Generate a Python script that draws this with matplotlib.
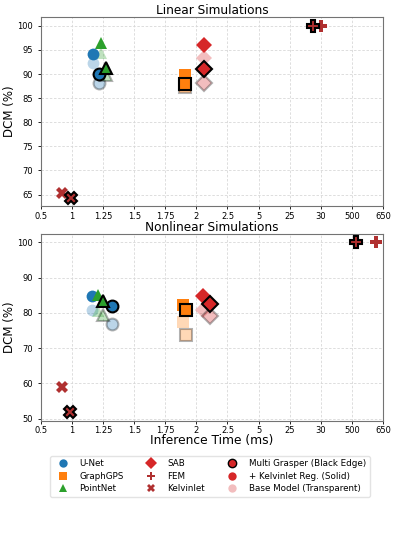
import numpy as np
import matplotlib.pyplot as plt
from matplotlib.lines import Line2D

# x axis is categorical: equally spaced ticks for these inference times (ms)
tick_vals = [0.5, 1, 1.25, 1.5, 1.75, 2, 2.5, 5, 25, 30, 500, 650]
tick_labels = ['0.5', '1', '1.25', '1.5', '1.75', '2', '2.5', '5', '25', '30', '500', '650']

models = ['U-Net', 'GraphGPS', 'PointNet', 'SAB']
colors = ['#1f77b4', '#ff7f0e', '#2ca02c', '#d62728']
markers = ['o', 's', '^', 'D']

# linear simulations
lin_time_single = [1.17, 1.91, 1.23, 2.12]
lin_time_multi = [1.22, 1.91, 1.27, 2.12]
lin_base_single = [92.2, 87.6, 94.4, 93.4]
lin_base_multi = [88.2, 87.3, 89.7, 88.2]
lin_reg_single = [94.1, 89.7, 96.4, 96.1]
lin_reg_multi = [90.0, 88.0, 91.2, 91.0]
lin_fem_time = [30, 28.75]
lin_fem_dcm = [100, 100]
lin_kel_time = [0.83, 0.98]
lin_kel_dcm = [65.3, 64.4]

# nonlinear simulations
nl_time_single = [1.16, 1.89, 1.21, 2.10]
nl_time_multi = [1.32, 1.92, 1.25, 2.22]
nl_base_single = [80.7, 77.5, 80.5, 80.8]
nl_base_multi = [76.9, 73.8, 79.4, 79.0]
nl_reg_single = [84.9, 82.3, 85.1, 84.9]
nl_reg_multi = [82.1, 80.8, 83.5, 82.5]
nl_fem_time = [617, 521]
nl_fem_dcm = [100, 100]
nl_kel_time = [0.84, 0.96]
nl_kel_dcm = [58.9, 51.8]

baseline_color = '#b03030'


def to_pos(t):
    return np.interp(t, tick_vals, np.arange(len(tick_vals)))


def draw(ax, ts, tm, bs, bm, rs, rm, fem_t, fem_d, kel_t, kel_d, title):
    ms = 8.5
    for i in range(len(models)):
        c, m = colors[i], markers[i]
        msz = ms - 0.5 if m == 's' else ms
        # base model (transparent)
        ax.plot(to_pos(ts[i]), bs[i], m, color=c, alpha=0.3, ms=msz, mew=0, zorder=2)
        ax.plot(to_pos(tm[i]), bm[i], m, color=c, alpha=0.3, ms=msz, mec='black', mew=1.5, zorder=2)
        # + kelvinlet reg (solid)
        ax.plot(to_pos(ts[i]), rs[i], m, color=c, ms=msz, mew=0, zorder=3)
        ax.plot(to_pos(tm[i]), rm[i], m, color=c, ms=msz, mec='black', mew=1.5, zorder=4)
    # FEM and Kelvinlet baselines
    ax.plot(to_pos(fem_t[0]), fem_d[0], 'P', color=baseline_color, ms=ms, mew=0, zorder=3)
    ax.plot(to_pos(fem_t[1]), fem_d[1], 'P', color=baseline_color, ms=ms, mec='black', mew=1.5, zorder=4)
    ax.plot(to_pos(kel_t[0]), kel_d[0], 'X', color=baseline_color, ms=ms, mew=0, zorder=3)
    ax.plot(to_pos(kel_t[1]), kel_d[1], 'X', color=baseline_color, ms=ms, mec='black', mew=1.5, zorder=4)

    ax.set_xlim(0, len(tick_vals) - 1)
    ax.set_xticks(np.arange(len(tick_vals)))
    ax.set_xticklabels(tick_labels)
    ax.tick_params(labelsize=6, length=2.5, width=0.6)
    ax.tick_params(axis='x', pad=1.5)
    ax.grid(True, linestyle=(0, (3, 2)), color='#d8d8d8', linewidth=0.6)
    ax.set_axisbelow(True)
    ax.set_title(title, fontsize=8.7, pad=2)
    ax.set_ylabel('DCM (%)', fontsize=8.5, labelpad=0.5)
    for s in ax.spines.values():
        s.set_color('0.45')


fig = plt.figure(figsize=(3.97, 5.54), dpi=100)
ax1 = fig.add_axes([0.1033, 0.628, 0.861, 0.341])
ax2 = fig.add_axes([0.1033, 0.2406, 0.861, 0.337])

draw(ax1, lin_time_single, lin_time_multi, lin_base_single, lin_base_multi,
     lin_reg_single, lin_reg_multi, lin_fem_time, lin_fem_dcm, lin_kel_time, lin_kel_dcm,
     'Linear Simulations')
ax1.set_yticks(np.arange(65, 101, 5))

draw(ax2, nl_time_single, nl_time_multi, nl_base_single, nl_base_multi,
     nl_reg_single, nl_reg_multi, nl_fem_time, nl_fem_dcm, nl_kel_time, nl_kel_dcm,
     'Nonlinear Simulations')
ax2.set_yticks(np.arange(50, 101, 10))
ax2.set_xlabel('Inference Time (ms)', fontsize=8.8, labelpad=-1)

# legend
handles = []
labels = []
for name, c, m in zip(models[:3], colors[:3], markers[:3]):
    handles.append(Line2D([], [], marker=m, color=c, ls='', ms=6, mew=0))
    labels.append(name)
handles.append(Line2D([], [], marker='D', color=colors[3], ls='', ms=6, mew=0))
labels.append('SAB')
handles.append(Line2D([], [], marker='P', color=baseline_color, ls='', ms=6, mew=0))
labels.append('FEM')
handles.append(Line2D([], [], marker='X', color=baseline_color, ls='', ms=6, mew=0))
labels.append('Kelvinlet')
handles.append(Line2D([], [], marker='o', color=colors[3], ls='', ms=6, mec='black', mew=1))
labels.append('Multi Grasper (Black Edge)')
handles.append(Line2D([], [], marker='o', color=colors[3], ls='', ms=6, mew=0))
labels.append('+ Kelvinlet Reg. (Solid)')
handles.append(Line2D([], [], marker='o', color=colors[3], alpha=0.3, ls='', ms=6, mew=0))
labels.append('Base Model (Transparent)')

fig.legend(handles, labels, loc='upper center', bbox_to_anchor=(0.529, 0.185), ncol=3,
           fontsize=6.3, frameon=True, edgecolor='#dddddd', handletextpad=0.9,
           columnspacing=2.1, labelspacing=0.4, borderpad=0.4)

fig.savefig('out.png', dpi=100)
